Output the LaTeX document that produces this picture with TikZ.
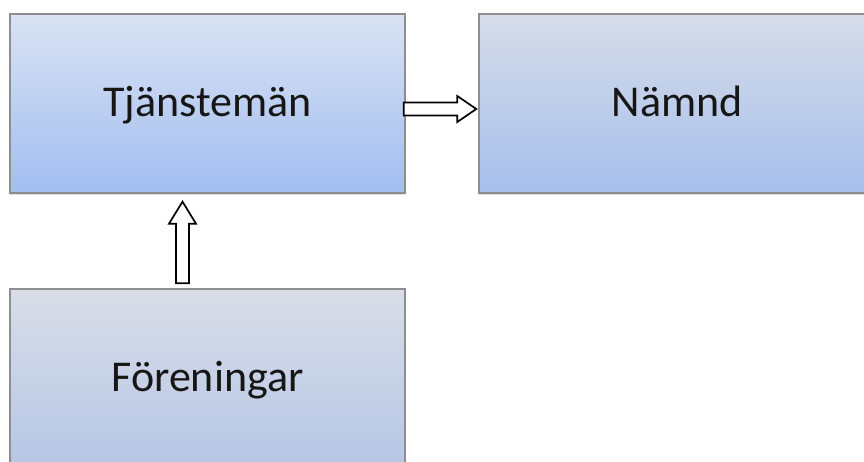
\documentclass[tikz,border=0pt]{standalone}
\usepackage{fontspec}
\setmainfont{Carlito}
\usetikzlibrary{calc,shadows}
\definecolor{borderc}{HTML}{8E8E8E}
\definecolor{textc}{HTML}{161616}
\definecolor{ttop}{RGB}{218,226,243}
\definecolor{tbot}{RGB}{162,190,240}
\definecolor{ntop}{RGB}{214,220,233}
\definecolor{nbot}{RGB}{167,191,236}
\definecolor{ftop}{RGB}{217,221,231}
\definecolor{fbot}{RGB}{182,198,230}
\tikzset{
  box/.style={draw=borderc, line width=1.4bp, minimum width=395bp, minimum height=179bp,
    inner sep=0pt, text=textc, font=\fontsize{44bp}{50bp}\selectfont,
    text height=35bp, text depth=8bp,
    drop shadow={shadow xshift=0bp, shadow yshift=-2.5bp, opacity=0.25}},
  blockarrow/.style={draw=black, line width=1.7bp, fill=white, line join=miter}
}
\begin{document}
\begin{tikzpicture}[x=1bp,y=1bp]
\useasboundingbox (0,0) rectangle (864,462);
\clip (0,0) rectangle (864,462);
\fill[white] (0,0) rectangle (864,462);
\node[box, top color=ttop, bottom color=tbot] (t) at (207.5,358.5) {Tjänstemän};
\node[box, minimum width=396bp, top color=ntop, bottom color=nbot] (n) at (677,358.5) {Nämnd};
\node[box, top color=ftop, bottom color=fbot] (f) at (207.5,83.5) {Föreningar};
\coordinate (a) at ($(t.east)+(-2,-5.5)$);
\coordinate (b) at ($(n.west)+(-2,-5.5)$);
\coordinate (c) at ($(f.north)+(-25,5)$);
\coordinate (d) at ($(t.south)+(-25,-8)$);
\draw[blockarrow] let \p1=(a), \p2=(b) in
  (\x1,\y1+6.5bp) -- (\x2-19bp,\y1+6.5bp) -- (\x2-19bp,\y1+13bp) -- (\x2,\y1)
  -- (\x2-19bp,\y1-13bp) -- (\x2-19bp,\y1-6.5bp) -- (\x1,\y1-6.5bp) -- cycle;
\draw[blockarrow] let \p1=(c), \p2=(d) in
  (\x1-6.5bp,\y1) -- (\x1-6.5bp,\y2-22bp) -- (\x1-13.5bp,\y2-22bp) -- (\x1,\y2)
  -- (\x1+13.5bp,\y2-22bp) -- (\x1+6.5bp,\y2-22bp) -- (\x1+6.5bp,\y1) -- cycle;
\end{tikzpicture}
\end{document}
